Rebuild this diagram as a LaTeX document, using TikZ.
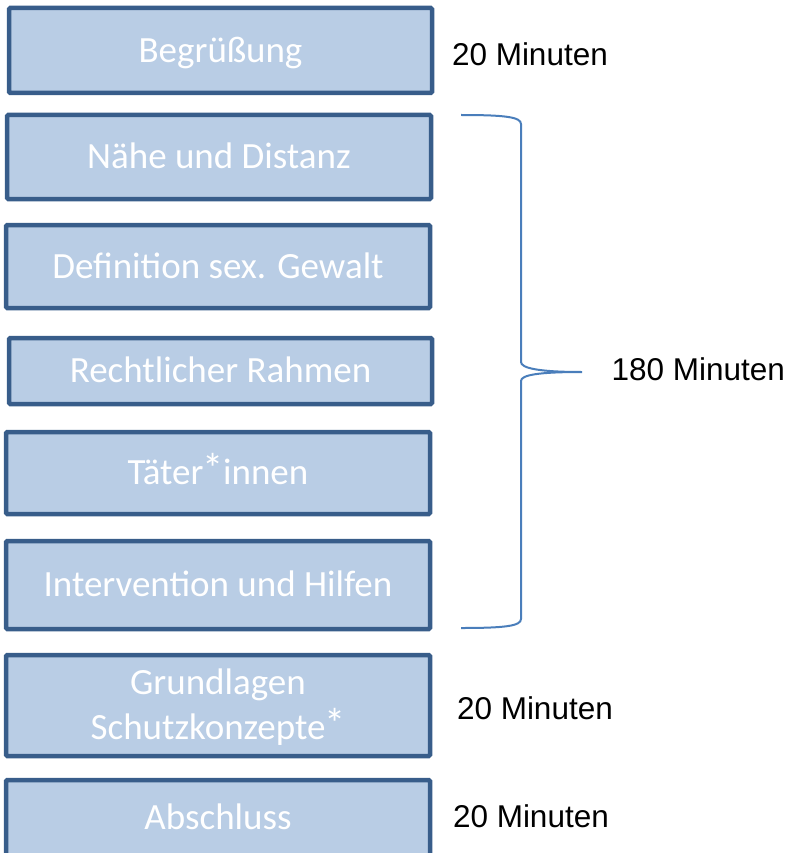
\documentclass[tikz,border=0pt]{standalone}
\usepackage{fontspec}
\usepackage{graphicx}
\setmainfont{Carlito}
\newfontfamily\arialfont{Liberation Sans}
\definecolor{boxfill}{HTML}{B9CDE5}
\definecolor{boxline}{HTML}{385D8A}
\definecolor{braceline}{HTML}{4A7EBB}
\newcommand{\upstar}{\kern-0.02em\raisebox{0.04em}{\scalebox{1.15}{*}}\kern-0.02em}
\tikzset{
  topicbox/.style={draw=boxline, fill=boxfill, line width=4.5pt, rounded corners=1.2pt,
    inner sep=0pt, outer sep=0pt, text=white, align=center,
    font=\fontsize{37}{45}\selectfont, text height=33.3pt, text depth=9.5pt},
  timelabel/.style={anchor=base west, inner sep=0pt, outer sep=0pt,
    font=\arialfont\fontsize{31.5}{36}\selectfont, text=black},
  bracestyle/.style={draw=braceline, line width=2pt}
}
\begin{document}
\begin{tikzpicture}[x=1pt,y=-1pt]
\useasboundingbox (0,0) rectangle (787,853);
\node[topicbox, minimum width=423pt, minimum height=85pt] (b1) at (220.5,50.5) {Begrüßung};
\node[topicbox, minimum width=424pt, minimum height=84pt] (b2) at (219,157) {Nähe und Distanz};
\node[topicbox, minimum width=424pt, minimum height=83pt] (b3) at (218,266.5) {Definition sex. Gewalt};
\node[topicbox, minimum width=423pt, minimum height=66pt] (b4) at (220.5,371) {Rechtlicher Rahmen};
\node[topicbox, minimum width=424pt, minimum height=82pt] (b5) at (218,473) {Täter\upstar innen};
\node[topicbox, minimum width=424pt, minimum height=88pt] (b6) at (218,585) {Intervention und Hilfen};
\node[topicbox, minimum width=424pt, minimum height=101pt, text height=78pt, text depth=9.5pt] (b7) at (218,705.5) {Grundlagen\\Schutzkonzepte\upstar};
\node[topicbox, minimum width=424pt, minimum height=76pt] (b8) at (218,818) {Abschluss};

\node[timelabel] (t1) at (452,66) {20 Minuten};
\node[timelabel] (t2) at (611.5,380.7) {180 Minuten};
\node[timelabel] (t3) at (457,719) {20 Minuten};
\node[timelabel] (t4) at (453,827) {20 Minuten};

\coordinate (bracetop) at (461,115);
\coordinate (bracetip) at (582,372);
\coordinate (bracebot) at (461,628);
\draw[bracestyle] (bracetop) .. controls (505,115) and (521,117) .. (521,124)
  -- (521,362) .. controls (521,368) and (538,372) .. (bracetip)
  .. controls (538,372) and (521,375) .. (521,381)
  -- (521,619) .. controls (521,626) and (505,628) .. (bracebot);
\end{tikzpicture}
\end{document}
